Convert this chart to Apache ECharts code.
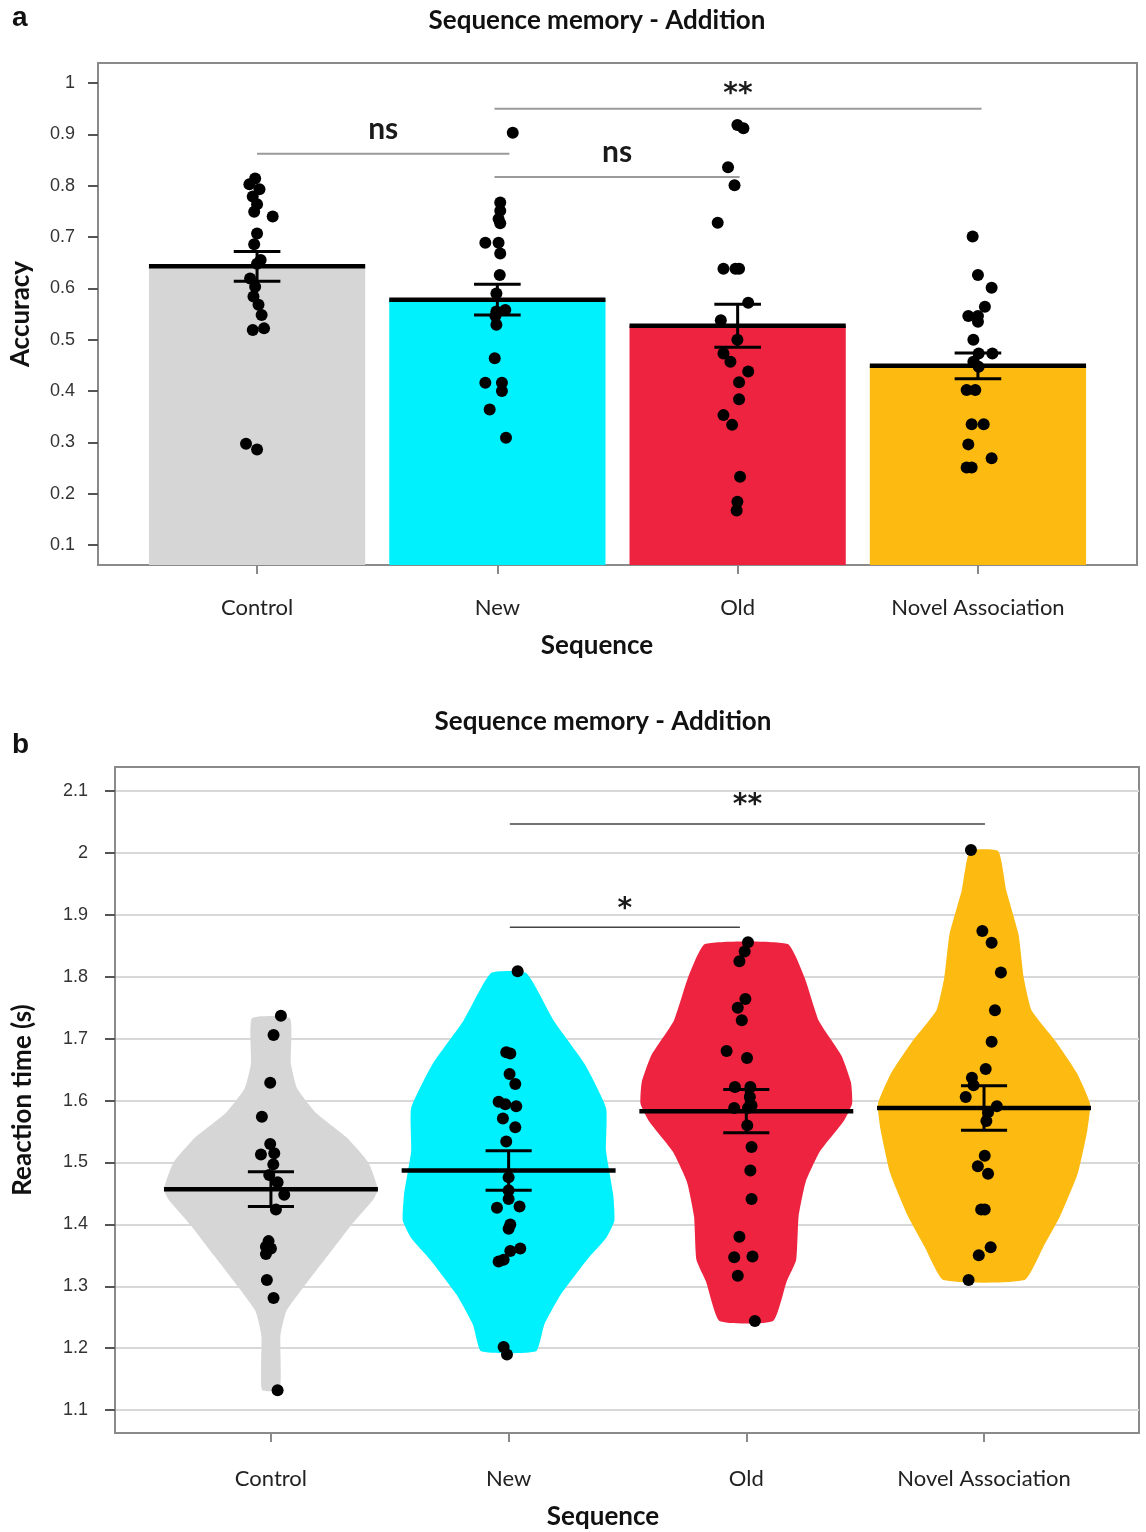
<!DOCTYPE html>
<html>
<head>
<meta charset="utf-8">
<script src="https://cdn.jsdelivr.net/npm/echarts@6/dist/echarts.min.js"></script>
<style>
  html, body { margin: 0; padding: 0; background: #fff; }
  #chart { width: 1146px; height: 1532px; }
</style>
</head>
<body>
<div id="chart"></div>
<script>
const categories = ['Control', 'New', 'Old', 'Novel Association'];
const colors = ['#d6d6d6', '#00f1fe', '#ed2340', '#fdbb11'];

// panel a - accuracy
const accTicks = [0.1, 0.2, 0.3, 0.4, 0.5, 0.6, 0.7, 0.8, 0.9, 1];
const accMean = [0.643, 0.578, 0.527, 0.449];
const accSem = [0.029, 0.030, 0.042, 0.025];
// [jitter, value]
const accControl = [[-0.008, 0.814], [-0.032, 0.803], [0.01, 0.793], [-0.018, 0.779], [0.0, 0.764], [-0.012, 0.749], [0.065, 0.740], [0.0, 0.707], [-0.012, 0.686], [0.015, 0.655], [0.0, 0.648], [-0.029, 0.619], [-0.008, 0.603], [-0.015, 0.584], [0.006, 0.568], [0.019, 0.548], [0.029, 0.522], [-0.018, 0.519], [-0.046, 0.297], [0.0, 0.286]];
const accNew = [[0.064, 0.903], [0.012, 0.767], [0.012, 0.751], [0.005, 0.735], [0.012, 0.727], [-0.05, 0.689], [0.005, 0.689], [0.012, 0.668], [0.01, 0.626], [-0.004, 0.590], [0.033, 0.558], [-0.004, 0.555], [-0.008, 0.546], [-0.004, 0.529], [-0.011, 0.464], [-0.05, 0.416], [0.019, 0.416], [0.019, 0.400], [-0.032, 0.364], [0.036, 0.309]];
const accOld = [[-0.001, 0.918], [0.024, 0.912], [-0.040, 0.836], [-0.013, 0.801], [-0.083, 0.728], [-0.059, 0.638], [-0.009, 0.638], [0.006, 0.638], [0.044, 0.572], [-0.070, 0.538], [-0.001, 0.500], [-0.059, 0.473], [-0.030, 0.457], [0.044, 0.438], [0.006, 0.417], [0.006, 0.384], [-0.059, 0.353], [-0.023, 0.334], [0.010, 0.233], [-0.001, 0.184], [-0.004, 0.167]];
const accNovel = [[-0.022, 0.701], [0.0, 0.626], [0.057, 0.601], [0.029, 0.564], [-0.040, 0.546], [0.0, 0.546], [0.0, 0.535], [-0.019, 0.500], [0.003, 0.473], [0.060, 0.473], [-0.019, 0.457], [0.003, 0.447], [-0.047, 0.402], [-0.011, 0.402], [-0.026, 0.335], [0.024, 0.335], [-0.040, 0.296], [0.057, 0.269], [-0.047, 0.251], [-0.026, 0.251]];
// [from, to, level, label]
const accBrackets = [[1.0, 2.05, 0.862, 'ns'], [1.988, 3.008, 0.817, 'ns'], [1.988, 4.015, 0.950, '**']];

// panel b - reaction time
const rtTicks = [1.1, 1.2, 1.3, 1.4, 1.5, 1.6, 1.7, 1.8, 1.9, 2, 2.1];
const rtMean = [1.457, 1.487, 1.583, 1.588];
const rtSem = [0.028, 0.032, 0.035, 0.036];
const rtControl = [[0.042, 1.737], [0.011, 1.706], [-0.003, 1.629], [-0.038, 1.574], [-0.003, 1.530], [-0.042, 1.513], [0.014, 1.515], [0.010, 1.497], [-0.007, 1.480], [0.028, 1.468], [0.056, 1.448], [0.021, 1.424], [-0.010, 1.373], [-0.021, 1.364], [0.0, 1.361], [-0.021, 1.352], [-0.017, 1.310], [0.011, 1.281], [0.028, 1.132]];
const rtNew = [[0.038, 1.809], [-0.010, 1.678], [0.007, 1.676], [0.004, 1.643], [0.028, 1.627], [-0.042, 1.598], [-0.014, 1.594], [0.032, 1.591], [-0.024, 1.571], [0.028, 1.557], [-0.010, 1.534], [0.0, 1.476], [0.0, 1.455], [0.0, 1.441], [-0.049, 1.427], [0.046, 1.429], [0.007, 1.400], [0.0, 1.393], [0.049, 1.361], [0.007, 1.357], [-0.042, 1.340], [-0.021, 1.343], [-0.021, 1.202], [-0.007, 1.190]];
const rtOld = [[0.007, 1.856], [-0.007, 1.841], [-0.029, 1.825], [-0.004, 1.764], [-0.036, 1.750], [-0.019, 1.730], [-0.083, 1.680], [0.003, 1.669], [-0.048, 1.622], [0.017, 1.622], [0.015, 1.606], [-0.051, 1.588], [0.007, 1.588], [0.022, 1.592], [0.004, 1.560], [0.022, 1.525], [0.017, 1.487], [0.022, 1.441], [-0.029, 1.380], [-0.051, 1.347], [0.026, 1.348], [-0.036, 1.317], [0.036, 1.244]];
const rtNovel = [[-0.055, 2.005], [-0.007, 1.874], [0.032, 1.855], [0.071, 1.807], [0.046, 1.746], [0.032, 1.695], [0.007, 1.651], [-0.051, 1.637], [-0.044, 1.625], [-0.077, 1.606], [0.054, 1.591], [0.017, 1.581], [0.010, 1.567], [0.003, 1.511], [-0.026, 1.494], [0.017, 1.482], [-0.012, 1.424], [0.003, 1.424], [0.028, 1.363], [-0.022, 1.350], [-0.065, 1.310]];
// violin outlines: [value, half width]
const violinControl = [[1.733, 0.08], [1.66, 0.084], [1.62, 0.11], [1.58, 0.19], [1.54, 0.32], [1.50, 0.41], [1.457, 0.45], [1.44, 0.43], [1.40, 0.34], [1.35, 0.24], [1.30, 0.14], [1.26, 0.065], [1.22, 0.04], [1.133, 0.038]];
const violinNew = [[1.806, 0.074], [1.729, 0.19], [1.659, 0.32], [1.588, 0.41], [1.518, 0.41], [1.448, 0.44], [1.406, 0.445], [1.378, 0.41], [1.343, 0.33], [1.287, 0.22], [1.238, 0.15], [1.195, 0.115]];
const violinOld = [[1.853, 0.174], [1.799, 0.245], [1.729, 0.305], [1.673, 0.40], [1.630, 0.44], [1.595, 0.445], [1.567, 0.41], [1.518, 0.31], [1.469, 0.25], [1.413, 0.22], [1.343, 0.21], [1.308, 0.17], [1.244, 0.113]];
const violinNovel = [[2.003, 0.06], [1.939, 0.094], [1.869, 0.145], [1.799, 0.167], [1.746, 0.20], [1.694, 0.305], [1.645, 0.39], [1.595, 0.446], [1.553, 0.435], [1.483, 0.395], [1.413, 0.32], [1.364, 0.25], [1.310, 0.17]];
const rtBrackets = [[2.005, 4.004, 2.047, '**'], [2.005, 2.973, 1.88, '*']];

const accDots = [accControl, accNew, accOld, accNovel];
const rtDots = [rtControl, rtNew, rtOld, rtNovel];
const violins = [violinControl, violinNew, violinOld, violinNovel];

const BAR_HALF = 0.45;
const CAP_HALF = 0.097;
const ACC_MIN = 0.061, ACC_MAX = 1.039;
const RT_MIN = 1.063, RT_MAX = 2.139;
const axisGray = '#8a8a8a';
const calibri = 'Lato, "Open Sans", sans-serif';

function fmt(v) { return String(+(+v).toFixed(1)); }

function xAxisFor(grid, min, max, margin) {
  return {
    gridIndex: grid, type: 'value', min: min, max: max,
    axisLine: { show: true, onZero: false, lineStyle: { color: axisGray, width: 2 } },
    axisTick: { show: true, customValues: [1, 2, 3, 4], length: 9, lineStyle: { color: axisGray, width: 2 } },
    axisLabel: { customValues: [1, 2, 3, 4], formatter: v => categories[Math.round(v) - 1], margin: margin,
      fontFamily: calibri, fontSize: 22, color: '#222' },
    splitLine: { show: false }
  };
}

function yAxisFor(grid, min, max, ticks, margin, name, nameGap, lines) {
  return {
    gridIndex: grid, type: 'value', min: min, max: max,
    axisLine: { show: true, onZero: false, lineStyle: { color: axisGray, width: 2 } },
    axisTick: { show: true, customValues: ticks, length: 10, lineStyle: { color: '#555', width: 2 } },
    axisLabel: { customValues: ticks, formatter: fmt, margin: margin,
      fontFamily: '"Liberation Sans", Arial, sans-serif', fontSize: 18, color: '#333' },
    splitLine: { show: lines, lineStyle: { color: '#d8d8d8', width: 2 } },
    name: name, nameLocation: 'middle', nameGap: nameGap,
    nameTextStyle: { fontFamily: calibri, fontWeight: 'bold', fontSize: 26, color: '#111' }
  };
}

function summaryRender(params, api) {
  const x = api.value(0), m = api.value(1), s = api.value(2);
  const l = api.coord([x - BAR_HALF, m]), r = api.coord([x + BAR_HALF, m]);
  const t = api.coord([x, m + s]), b = api.coord([x, m - s]);
  const tl = api.coord([x - CAP_HALF, m + s]), tr = api.coord([x + CAP_HALF, m + s]);
  const bl = api.coord([x - CAP_HALF, m - s]), br = api.coord([x + CAP_HALF, m - s]);
  const st = { stroke: '#000', lineWidth: 3 };
  return {
    type: 'group', children: [
      { type: 'line', shape: { x1: l[0], y1: l[1], x2: r[0], y2: r[1] }, style: { stroke: '#000', lineWidth: 4.5 } },
      { type: 'line', shape: { x1: t[0], y1: t[1], x2: b[0], y2: b[1] }, style: st },
      { type: 'line', shape: { x1: tl[0], y1: tl[1], x2: tr[0], y2: tr[1] }, style: st },
      { type: 'line', shape: { x1: bl[0], y1: bl[1], x2: br[0], y2: br[1] }, style: st }
    ]
  };
}

function barRender(params, api) {
  const x = api.value(0), m = api.value(1);
  const lt = api.coord([x - BAR_HALF, m]);
  const rb = api.coord([x + BAR_HALF, ACC_MIN]);
  return {
    type: 'rect',
    shape: { x: lt[0], y: lt[1], width: rb[0] - lt[0], height: rb[1] - lt[1] },
    style: { fill: colors[params.dataIndex] }
  };
}

function violinRender(params, api) {
  const i = params.dataIndex;
  const x = api.value(0);
  const prof = violins[i];
  const right = prof.map(p => api.coord([x + p[1], p[0]]));
  const left = prof.slice().reverse().map(p => api.coord([x - p[1], p[0]]));
  return {
    type: 'polygon',
    shape: { points: right.concat(left), smooth: 0.15 },
    style: { fill: colors[i] }
  };
}

function bracketRender(list, color, width, starOff) {
  return function (params, api) {
    const b = list[params.dataIndex];
    const p1 = api.coord([b[0], b[2]]), p2 = api.coord([b[1], b[2]]);
    const star = b[3].indexOf('*') >= 0;
    return {
      type: 'group', children: [
        { type: 'line', shape: { x1: p1[0], y1: p1[1], x2: p2[0], y2: p2[1] }, style: { stroke: color, lineWidth: width } },
        { type: 'text', x: (p1[0] + p2[0]) / 2, y: p1[1] - (star ? starOff : 25),
          style: { text: b[3], align: 'center', verticalAlign: 'middle', fill: '#1a1a1a',
            font: star ? 'bold 28px "DejaVu Sans", sans-serif' : 'bold 30px ' + calibri } }
      ]
    };
  };
}

function dotsFor(groups) {
  const out = [];
  groups.forEach((g, i) => g.forEach(p => out.push([i + 1 + p[0], p[1]])));
  return out;
}

function label(text, x, y, size) {
  return { type: 'text', x: x, y: y, style: { text: text, align: 'center', verticalAlign: 'middle',
    font: 'bold ' + size + 'px ' + calibri, fill: '#111' } };
}

const chart = echarts.init(document.getElementById('chart'));
chart.setOption({
  animation: false,
  backgroundColor: '#fff',
  grid: [
    { left: 98, top: 63, width: 1039, height: 502, show: true, borderColor: axisGray, borderWidth: 2 },
    { left: 115, top: 767, width: 1024, height: 666, show: true, borderColor: axisGray, borderWidth: 2 }
  ],
  xAxis: [
    xAxisFor(0, 0.338, 4.662, 32),
    xAxisFor(1, 0.344, 4.652, 35)
  ],
  yAxis: [
    yAxisFor(0, ACC_MIN, ACC_MAX, accTicks, 23, 'Accuracy', 64, false),
    yAxisFor(1, RT_MIN, RT_MAX, rtTicks, 27, 'Reaction time (s)', 79, true)
  ],
  graphic: [
    { type: 'text', x: 12, y: 4, style: { text: 'a', font: 'bold 28px "Liberation Sans", Arial', fill: '#111' } },
    { type: 'text', x: 12, y: 731, style: { text: 'b', font: 'bold 28px "Liberation Sans", Arial', fill: '#111' } },
    label('Sequence memory - Addition', 597, 21, 26),
    label('Sequence memory - Addition', 603, 722, 26),
    label('Sequence', 597, 646, 26),
    label('Sequence', 603, 1517, 26)
  ],
  series: [
    { type: 'custom', xAxisIndex: 0, yAxisIndex: 0, z: 2, renderItem: barRender,
      data: accMean.map((m, i) => [i + 1, m]), encode: { x: 0, y: 1 } },
    { type: 'custom', xAxisIndex: 0, yAxisIndex: 0, z: 3, renderItem: bracketRender(accBrackets, '#9a9a9a', 2, 14),
      data: accBrackets.map(b => [b[0], b[2], b[1]]), encode: { x: 0, y: 1 } },
    { type: 'scatter', xAxisIndex: 0, yAxisIndex: 0, z: 4, symbolSize: 12, itemStyle: { color: '#000', opacity: 1 },
      data: dotsFor(accDots) },
    { type: 'custom', xAxisIndex: 0, yAxisIndex: 0, z: 5, renderItem: summaryRender,
      data: accMean.map((m, i) => [i + 1, m, accSem[i]]), encode: { x: 0, y: 1 } },

    { type: 'custom', xAxisIndex: 1, yAxisIndex: 1, z: 2, renderItem: violinRender,
      data: rtMean.map((m, i) => [i + 1, m]), encode: { x: 0, y: 1 } },
    { type: 'custom', xAxisIndex: 1, yAxisIndex: 1, z: 3, renderItem: bracketRender(rtBrackets, '#444', 1.5, 18),
      data: rtBrackets.map(b => [b[0], b[2], b[1]]), encode: { x: 0, y: 1 } },
    { type: 'scatter', xAxisIndex: 1, yAxisIndex: 1, z: 4, symbolSize: 12, itemStyle: { color: '#000', opacity: 1 },
      data: dotsFor(rtDots) },
    { type: 'custom', xAxisIndex: 1, yAxisIndex: 1, z: 5, renderItem: summaryRender,
      data: rtMean.map((m, i) => [i + 1, m, rtSem[i]]), encode: { x: 0, y: 1 } }
  ]
});
</script>
</body>
</html>
